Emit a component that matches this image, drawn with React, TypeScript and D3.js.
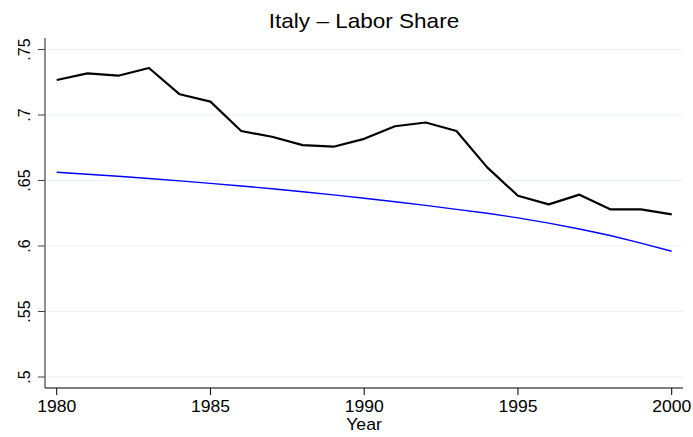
import * as d3 from "d3";

const years = d3.range(1980, 2001);
const laborShare = [
  0.7267, 0.7318, 0.730, 0.7359, 0.7158, 0.7102, 0.6878, 0.6834, 0.677, 0.6758,
  0.6818, 0.6914, 0.6943, 0.6878, 0.660, 0.6384, 0.6318, 0.6392, 0.628, 0.628,
  0.6241,
];
const fitted = [
  0.6563, 0.6548, 0.6532, 0.6515, 0.6497, 0.6478, 0.6458, 0.6437, 0.6414, 0.639,
  0.6365, 0.6338, 0.631, 0.628, 0.625, 0.6215, 0.6175, 0.613, 0.608, 0.6022,
  0.596,
];
const yTicks = [0.5, 0.55, 0.6, 0.65, 0.7, 0.75];
const xTicks = [1980, 1985, 1990, 1995, 2000];
const yFmt = (v: number) => String(v).replace(/^0/, "");

const W = 693;
const H = 437;
const plot = { left: 45, right: 683, top: 38, bottom: 388 };

const App = () => {
  const x = d3.scaleLinear().domain([1980, 2000]).range([56.7, 671.7]);
  const y = d3.scaleLinear().domain([0.5, 0.75]).range([377, 49.5]);

  const line = d3
    .line<number>()
    .x((_, i) => x(years[i]))
    .y((d) => y(d));

  const font = "'Liberation Sans', Arial, sans-serif";
  const cx = (plot.left + plot.right) / 2;

  return (
    <svg
      width={W}
      height={H}
      style={{ position: "absolute", left: 0, top: 0, background: "#fff" }}
      fontFamily={font}
    >
      {yTicks.map((t) => (
        <line
          key={"g" + t}
          x1={plot.left}
          x2={plot.right}
          y1={y(t)}
          y2={y(t)}
          stroke="#eaf2f3"
          strokeWidth={1.2}
        />
      ))}
      <path d={line(fitted) ?? ""} fill="none" stroke="#0000ff" strokeWidth={1.4} />
      <path
        d={line(laborShare) ?? ""}
        fill="none"
        stroke="#000"
        strokeWidth={2.2}
        strokeLinejoin="round"
      />
      {/* axes */}
      <line x1={plot.left} x2={plot.left} y1={plot.top} y2={plot.bottom} stroke="#444" strokeWidth={1.2} />
      <line x1={plot.left} x2={plot.right} y1={plot.bottom} y2={plot.bottom} stroke="#000" strokeWidth={1.2} />
      {yTicks.map((t) => (
        <g key={"y" + t}>
          <line x1={plot.left - 7} x2={plot.left} y1={y(t)} y2={y(t)} stroke="#444" />
          <text
            transform={`translate(30,${y(t)}) rotate(-90)`}
            textAnchor="middle"
            fontSize={16}
            fill="#000"
          >
            {yFmt(t)}
          </text>
        </g>
      ))}
      {xTicks.map((t) => (
        <g key={"x" + t}>
          <line x1={x(t)} x2={x(t)} y1={plot.bottom} y2={plot.bottom + 7} stroke="#000" />
          <text
            transform={`translate(${x(t)},411.7) scale(1.1,1)`}
            textAnchor="middle"
            fontSize={16}
            fill="#000"
          >
            {t}
          </text>
        </g>
      ))}
      <text transform={`translate(${cx},430) scale(1.1,1)`} textAnchor="middle" fontSize={16}>
        Year
      </text>
      <text transform={`translate(${cx},28) scale(1.1,1)`} textAnchor="middle" fontSize={20.5}>
        Italy – Labor Share
      </text>
    </svg>
  );
};

export default App;
